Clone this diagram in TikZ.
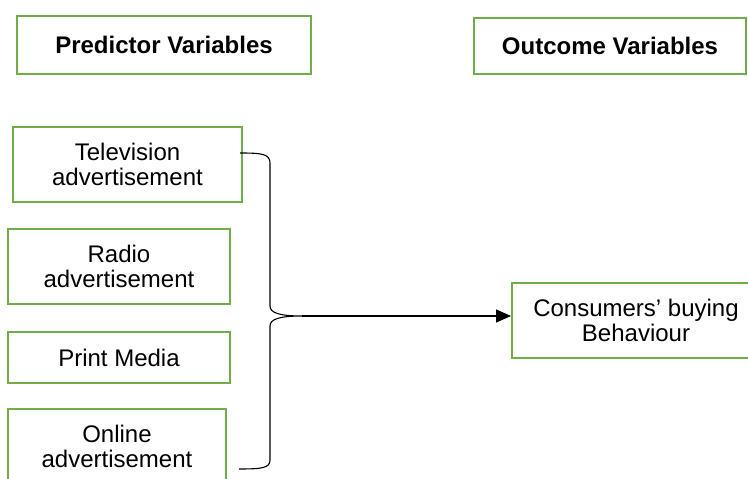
\documentclass[tikz,border=0pt]{standalone}
\usepackage{fontspec}
\setmainfont{Liberation Sans}
\usetikzlibrary{arrows.meta}
\definecolor{boxgreen}{RGB}{112, 173, 71}

\begin{document}
\begin{tikzpicture}[x=1pt, y=1pt,
    varbox/.style={draw=boxgreen, line width=2pt, align=center, inner sep=0pt,
        font=\fontsize{24}{25.5}\selectfont},
    headbox/.style={varbox, font=\fontsize{24}{25.5}\selectfont\bfseries}]
    % 図の範囲
    \useasboundingbox (0,0) rectangle (748,479);
    % 見出し
    \node[headbox, minimum width=294pt, minimum height=58pt] (pred) at (164,434) {Predictor Variables};
    \node[headbox, minimum width=272pt, minimum height=56pt] (outc) at (610,433) {Outcome Variables};
    % 説明変数
    \node[varbox, minimum width=229pt, minimum height=75pt] (tv) at (127.5,314.5) {Television\\advertisement};
    \node[varbox, minimum width=222pt, minimum height=75pt] (radio) at (119,212.5) {Radio\\advertisement};
    \node[varbox, minimum width=222pt, minimum height=51pt] (print) at (119,121.5) {Print Media};
    \node[varbox, minimum width=218pt, minimum height=75pt] (online) at (117,32.5) {Online\\advertisement};
    % 目的変数
    \node[varbox, minimum width=248pt, minimum height=75pt] (cons) at (636,158.5) {Consumers’ buying\\Behaviour};
    % 中括弧
    \coordinate (tip) at (302,163);
    \draw[line width=1.1pt] (240,326) .. controls (262,326) and (270,325) .. (270,316)
        -- (270,173) .. controls (270,166) and (280,163) .. (tip)
        .. controls (280,163) and (270,160) .. (270,153)
        -- (270,19) .. controls (270,11) and (262,10) .. (239,10);
    % 矢印
    \draw[line width=1.1pt, -{Triangle[length=15pt, width=13pt]}] (tip) -- (tip -| cons.west);
\end{tikzpicture}
\end{document}
